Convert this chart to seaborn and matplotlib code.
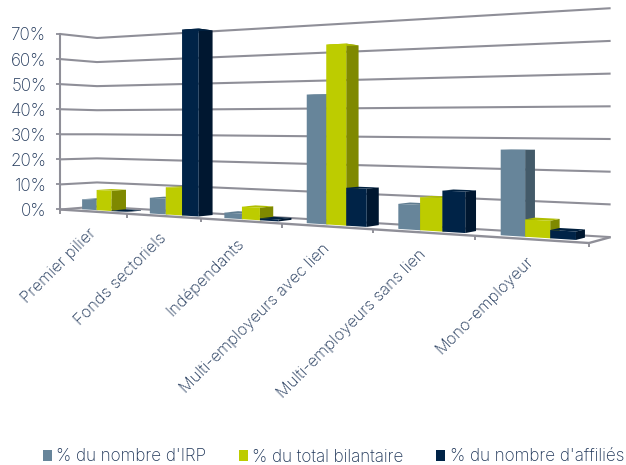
import numpy as np
import pandas as pd
import matplotlib
matplotlib.use("Agg")
import matplotlib.pyplot as plt
from matplotlib.transforms import Transform, Affine2D
import seaborn as sns

categories = ["Premier pilier", "Fonds sectoriels", "Indépendants",
              "Multi-employeurs avec lien", "Multi-employeurs sans lien", "Mono-employeur"]
series_names = ["% du nombre d'IRP", "% du total bilantaire", "% du nombre d'affiliés"]
irp = [4, 6, 2, 44.5, 8.2, 26.5]
bilan = [8, 10.3, 4.5, 61.5, 10.7, 5.3]
affilies = [0.2, 69.6, 0.7, 12.8, 13.1, 2.5]
colors = ["#67859A", "#BDCC00", "#002347"]
side_colors = ["#435A69", "#7F8900", "#001730"]
top_colors = ["#5F7C90", "#B0BE00", "#00203F"]
yticks = [0, 10, 20, 30, 40, 50, 60, 70]
TEXT = "#1E3558"
GRID = "#8F8F98"

sns.set_style("white")
plt.rcParams["font.family"] = ["Inter", "DejaVu Sans"]
plt.rcParams["font.weight"] = "light"

df = pd.DataFrame({
    "categorie": categories * 3,
    "serie": np.repeat(series_names, len(categories)),
    "valeur": irp + bilan + affilies,
})

W, H = 626, 465
fig = plt.figure(figsize=(W / 100, H / 100), dpi=100)
ax = fig.add_axes([60 / W, (H - 209.5) / H, 0.8, 175.5 / H])

sns.barplot(data=df, x="categorie", y="valeur", hue="serie", order=categories,
            hue_order=series_names, palette=colors, saturation=1, width=2 / 3,
            linewidth=0, ax=ax)

# ---- perspective camera (t along the front edge, y into the depth)
X0, X1 = -0.5, 5.5
WX, WY = -0.2748, 0.0415                 # perspective divide
FL = np.array([60.0, 209.5])             # front-left floor corner
BL = np.array([97.0, 206.5]) * (1 + WY)  # back-left
FR = np.array([589.0, 243.0]) * (1 + WX) # front-right
S = -175.5 / 70


def project(x, y, z):
    x, y, z = np.asarray(x, float), np.asarray(y, float), np.asarray(z, float)
    t = (x - X0) / (X1 - X0)
    w = 1 + WX * t + WY * y
    u = FL[0] + (FR[0] - FL[0]) * t + (BL[0] - FL[0]) * y
    v = FL[1] + (FR[1] - FL[1]) * t + (BL[1] - FL[1]) * y + S * z
    return u / w, v / w


PIX = Affine2D().scale(1, -1).translate(0, H)
D0, D1 = 0.3, 0.7


class FrontPlane(Transform):
    input_dims = output_dims = 2

    def transform_non_affine(self, values):
        values = np.asarray(values, float)
        u, v = project(values[:, 0], np.full(len(values), D0), values[:, 1])
        return np.column_stack([u, v])


def line3d(xs, ys, zs, **kw):
    u, v = project(xs, ys, zs)
    ax.plot(u, v, transform=PIX, clip_on=False, solid_capstyle="butt", **kw)


def face3d(xs, ys, zs, **kw):
    u, v = project(xs, ys, zs)
    ax.fill(u, v, transform=PIX, clip_on=False, linewidth=0, **kw)


# ---- walls and floor
for t in yticks:
    line3d([X0, X0, X1], [0, 1, 1], [t, t, t], color=GRID, lw=1.5, zorder=1)
line3d([X0, X1, X1], [0, 0, 1], [0, 0, 0], color=GRID, lw=1.7, zorder=2)
for i in range(len(categories) + 1):
    u, v = project(X0 + i, 0, 0)
    ax.plot([u, u], [v, v + 4], transform=PIX, color=GRID, lw=1.4, clip_on=False, zorder=2,
            solid_capstyle="butt")

# ---- bars: seaborn front faces, sides and tops derived from them
front = FrontPlane() + PIX
for s, container in enumerate(ax.containers):
    for c, bar in enumerate(container):
        x, wd, ht = bar.get_x(), bar.get_width(), bar.get_height()
        zo = 5 + s * 3
        bar.set_transform(front)
        bar.set_clip_on(False)
        bar.set_zorder(zo + 2)
        bar.set_linewidth(0)
        face3d([x + wd, x + wd, x + wd, x + wd], [D0, D1, D1, D0], [0, 0, ht, ht],
               color=side_colors[s], zorder=zo)
        face3d([x, x + wd, x + wd, x], [D0, D0, D1, D1], [ht, ht, ht, ht],
               color=top_colors[s], zorder=zo + 1)

# ---- axes dressing
ax.set_xlim(X0, X1)
ax.set_ylim(0, 70)
ax.set_yticks(yticks, [f"{t}%" for t in yticks])
ax.tick_params(axis="y", left=True, length=3, width=1.3, color=GRID, pad=6.8,
               labelsize=12.3, labelcolor=TEXT)
ax.tick_params(axis="x", bottom=False, labelbottom=False)
ax.set_xlabel("")
ax.set_ylabel("")
sns.despine(ax=ax, top=True, right=True, bottom=True)
ax.spines["left"].set_color(GRID)
ax.spines["left"].set_linewidth(1.5)
ax.patch.set_alpha(0)

for i, name in enumerate(categories):
    u, v = project(i, 0, 0)
    ax.text(u + 0.5, v + 19.5, name, transform=PIX, rotation=45, rotation_mode="anchor",
            ha="right", va="center", fontsize=11.8, color=TEXT, clip_on=False)

handles, labels = ax.get_legend_handles_labels()
ax.legend(handles, labels, ncol=3, frameon=False, loc="lower left", title=None,
          bbox_to_anchor=(38 / W, -0.012), bbox_transform=fig.transFigure,
          fontsize=12.3, labelcolor=TEXT, handlelength=0.53, handleheight=0.6,
          handletextpad=0.25, columnspacing=1.9, borderpad=0.3, borderaxespad=0)

fig.savefig("out.png", dpi=100)
